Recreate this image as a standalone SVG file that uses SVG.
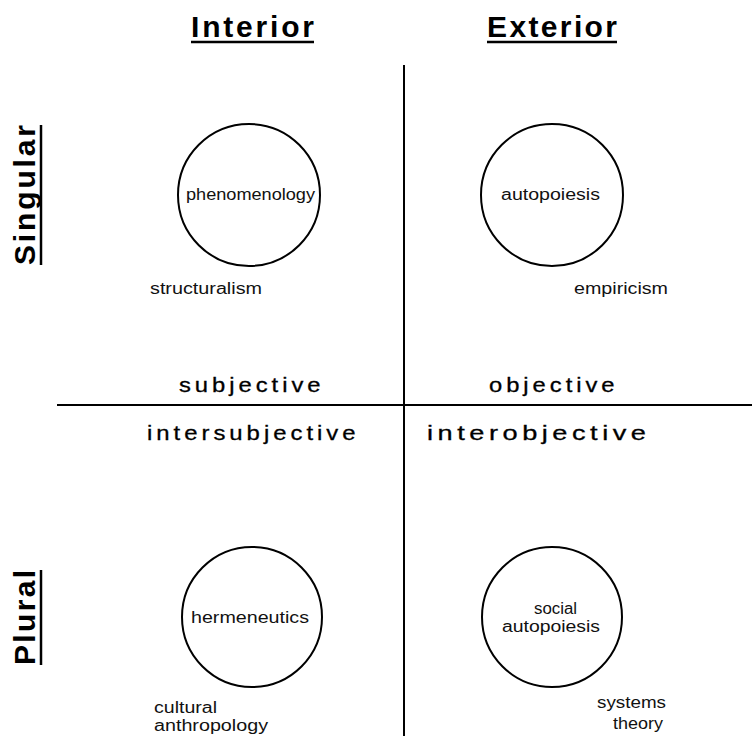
<svg xmlns="http://www.w3.org/2000/svg" width="752" height="736" viewBox="0 0 752 736">
<style>
.hd{font-family:"Liberation Sans",Arial,sans-serif;font-weight:bold;font-size:30px;fill:#000}
.q{font-family:"Liberation Sans",Arial,sans-serif;font-size:21px;letter-spacing:3.5px;fill:#000;stroke:#000;stroke-width:0.3}
.s{font-family:"Liberation Sans",Arial,sans-serif;font-size:16px;fill:#111}
.c{fill:#fff;stroke:#000;stroke-width:2}
.ln{stroke:#000;stroke-width:2;fill:none}
.ul{stroke:#000;stroke-width:2.5;fill:none}
</style>
<rect width="752" height="736" fill="#fff"/>
<g id="headers">
<text class="hd" x="191" y="37" textLength="123" lengthAdjust="spacing">Interior</text>
<line class="ul" x1="191" y1="42" x2="314" y2="42"/>
<text class="hd" x="487" y="37" textLength="130" lengthAdjust="spacing">Exterior</text>
<line class="ul" x1="487" y1="42" x2="617" y2="42"/>
<text class="hd" transform="translate(35,265) rotate(-90)" textLength="140" lengthAdjust="spacing">Singular</text>
<line class="ul" x1="41" y1="125" x2="41" y2="265"/>
<text class="hd" transform="translate(35,665) rotate(-90)" textLength="95" lengthAdjust="spacing">Plural</text>
<line class="ul" x1="41" y1="570" x2="41" y2="665"/>
</g>
<g id="connectors">
<line class="ln" x1="404" y1="65" x2="404" y2="736"/>
<line class="ln" x1="57" y1="405" x2="752" y2="405"/>
</g>
<g id="quadrant-labels">
<text class="q" x="179" y="392" textLength="145.5" lengthAdjust="spacingAndGlyphs">subjective</text>
<text class="q" x="489" y="392" textLength="129.5" lengthAdjust="spacingAndGlyphs">objective</text>
<text class="q" x="147" y="440" textLength="212.5" lengthAdjust="spacingAndGlyphs">intersubjective</text>
<text class="q" x="427" y="440" textLength="223.5" lengthAdjust="spacingAndGlyphs">interobjective</text>
</g>
<g id="phenomenology">
<circle class="c" cx="249" cy="195" r="71"/>
<text class="s" x="186" y="200" textLength="129" lengthAdjust="spacingAndGlyphs">phenomenology</text>
</g>
<g id="autopoiesis">
<circle class="c" cx="552" cy="195" r="71"/>
<text class="s" x="501" y="200" textLength="99" lengthAdjust="spacingAndGlyphs">autopoiesis</text>
</g>
<g id="hermeneutics">
<circle class="c" cx="252" cy="617" r="70"/>
<text class="s" x="191" y="623" textLength="118" lengthAdjust="spacingAndGlyphs">hermeneutics</text>
</g>
<g id="social-autopoiesis">
<circle class="c" cx="552" cy="617" r="70"/>
<text class="s" x="534" y="614" textLength="43" lengthAdjust="spacingAndGlyphs">social</text>
<text class="s" x="502" y="632" textLength="98" lengthAdjust="spacingAndGlyphs">autopoiesis</text>
</g>
<g id="structuralism"><text class="s" x="150" y="294" textLength="112" lengthAdjust="spacingAndGlyphs">structuralism</text></g>
<g id="empiricism"><text class="s" x="574" y="294" textLength="94" lengthAdjust="spacingAndGlyphs">empiricism</text></g>
<g id="cultural-anthropology">
<text class="s" x="154" y="713" textLength="63" lengthAdjust="spacingAndGlyphs">cultural</text>
<text class="s" x="154" y="731" textLength="114" lengthAdjust="spacingAndGlyphs">anthropology</text>
</g>
<g id="systems-theory">
<text class="s" x="597" y="708" textLength="69" lengthAdjust="spacingAndGlyphs">systems</text>
<text class="s" x="613" y="729" textLength="50" lengthAdjust="spacingAndGlyphs">theory</text>
</g>
</svg>
